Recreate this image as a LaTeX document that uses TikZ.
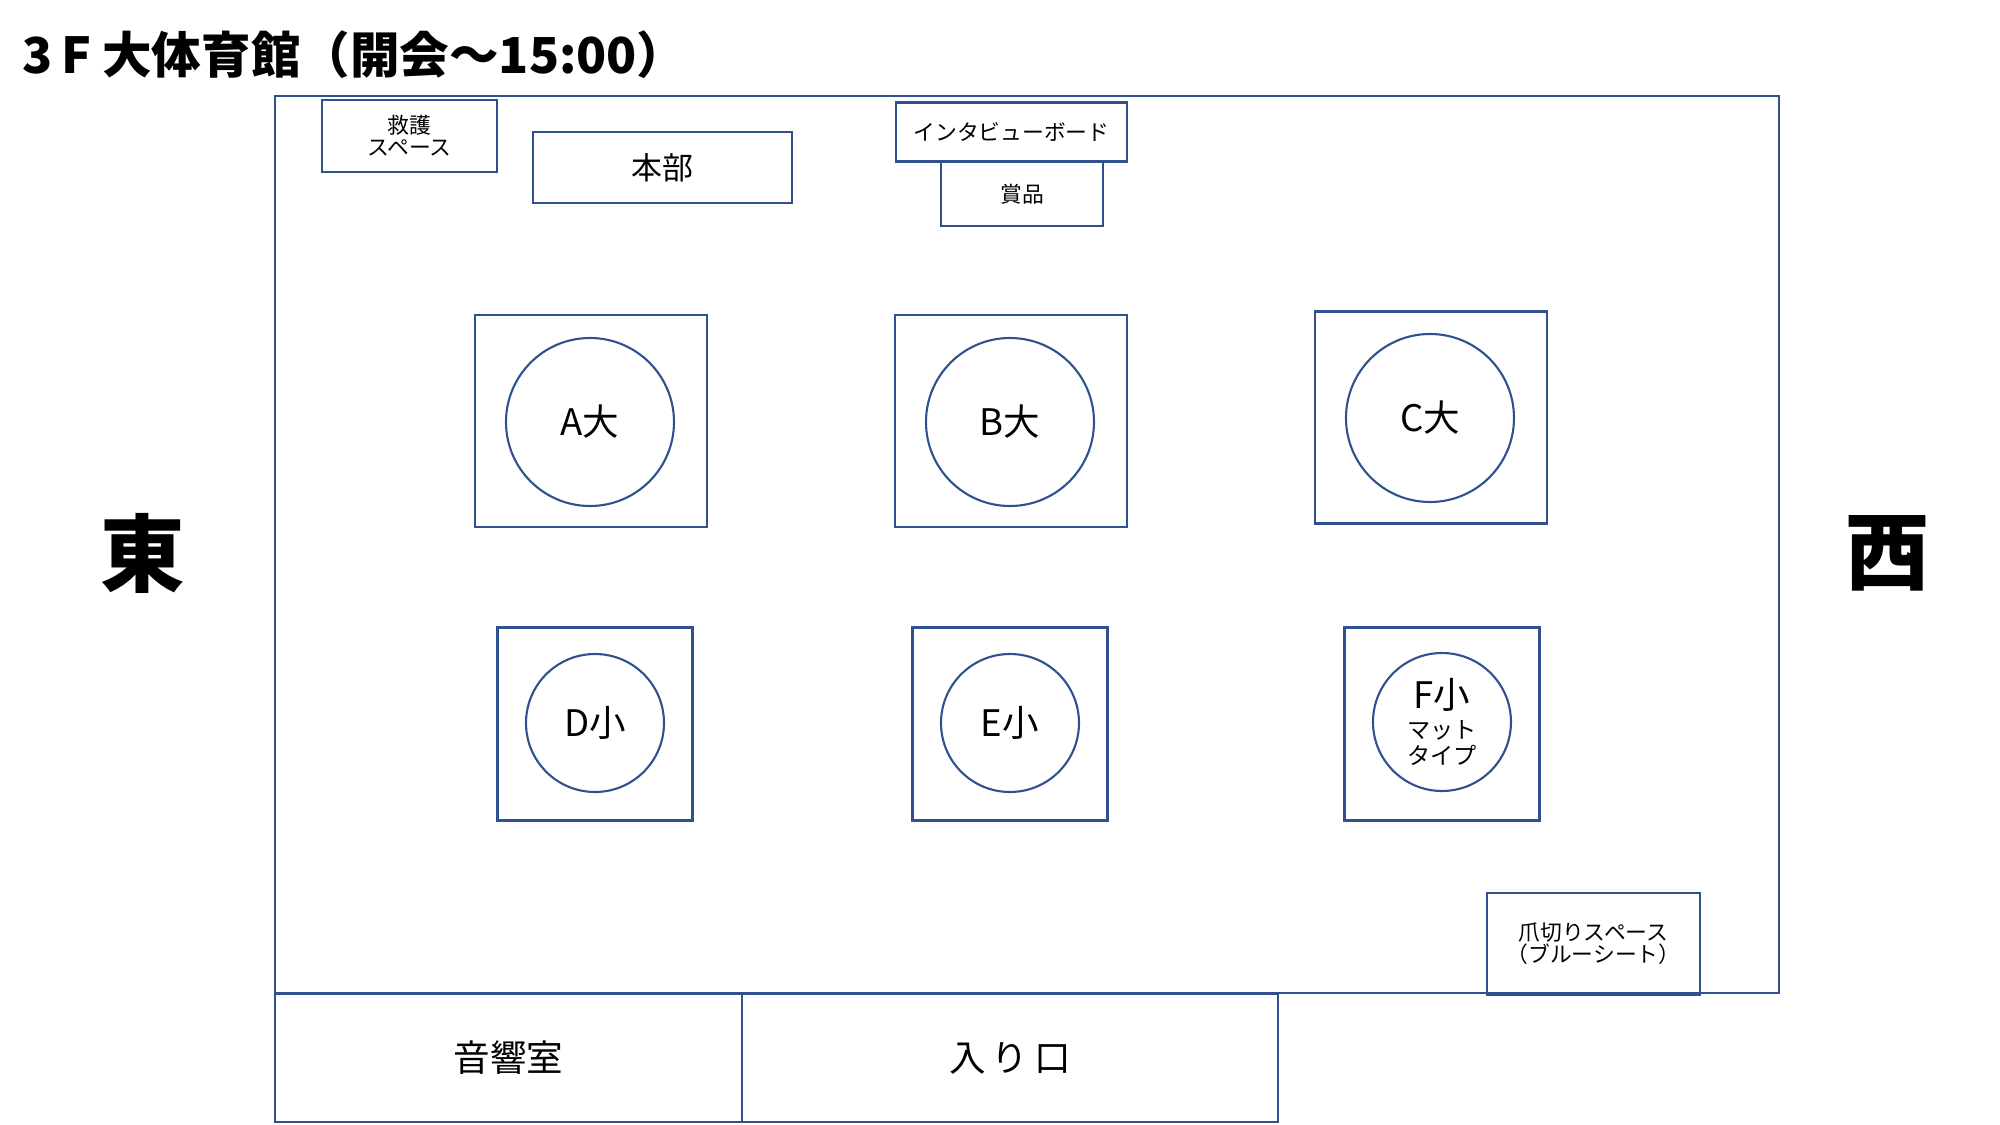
\documentclass[tikz,border=0pt]{standalone}
\usepackage{fontspec}
\setmainfont{Noto Sans CJK JP}
\definecolor{frame}{HTML}{2F528F}
\begin{document}
\begin{tikzpicture}[x=0.1mm,y=-0.1mm,
  box/.style={draw=frame, line width=0.6pt, inner sep=0pt, align=center, text=black},
  ring/.style={draw=frame, line width=0.6pt, circle, inner sep=0pt, align=center, text=black},
  small/.style={font=\fontsize{6.2}{7.2}\selectfont},
  mid/.style={font=\fontsize{8.8}{10}\selectfont},
  big/.style={font=\fontsize{10.4}{12}\selectfont},
  dir/.style={font=\fontsize{24}{28}\selectfont\bfseries}]
\useasboundingbox (0,0) rectangle (2000,1125);
% title
\node[anchor=west, inner sep=0pt, font=\fontsize{14.1}{16}\selectfont\bfseries] (title) at (22,55) {3\,F 大体育館（開会～15:00）};
% hall
\node[box, minimum width=150.4mm, minimum height=89.7mm] (hall) at (1027,544.5) {};
% bottom rooms
\node[box, big, minimum width=46.7mm, minimum height=12.8mm] (sound) at (508.5,1058) {音響室};
\node[box, big, minimum width=53.6mm, minimum height=12.8mm] (entry) at (1010,1058) {入\,り\,口};
% top items
\node[box, small, minimum width=17.5mm, minimum height=7.2mm] (aid) at (409.5,136) {救護\\[-1pt]スペース};
\node[box, mid, minimum width=25.9mm, minimum height=7.1mm] (hq) at (662.5,167.5) {本部};
\node[box, small, minimum width=23.1mm, minimum height=5.9mm] (board) at (1011.5,132) {インタビューボード};
\node[box, small, minimum width=16.2mm, minimum height=6.4mm] (prize) at (1022,194) {賞品};
% large courts
\node[box, minimum width=23.2mm, minimum height=21.2mm] (sqA) at (591,421) {};
\node[ring, big, minimum size=16.8mm] (A) at (590,422) {A大};
\node[box, minimum width=23.2mm, minimum height=21.2mm] (sqB) at (1011,421) {};
\node[ring, big, minimum size=16.8mm] (B) at (1010,422) {B大};
\node[box, minimum width=23.2mm, minimum height=21.2mm] (sqC) at (1431,417.5) {};
\node[ring, big, minimum size=16.8mm] (C) at (1430,418) {C大};
% small courts
\node[box, minimum width=19.5mm, minimum height=19.3mm] (sqD) at (595,724) {};
\node[ring, big, minimum size=13.8mm] (D) at (595,723) {D小};
\node[box, minimum width=19.5mm, minimum height=19.3mm] (sqE) at (1010,724) {};
\node[ring, big, minimum size=13.8mm] (E) at (1010,723) {E小};
\node[box, minimum width=19.5mm, minimum height=19.3mm] (sqF) at (1442,724) {};
\node[ring, minimum size=13.8mm, font=\fontsize{6.6}{7.4}\selectfont] (F) at (1442,722) {{\fontsize{10.4}{11}\selectfont F小}\\[0.9pt]マット\\タイプ};
% nail space
\node[box, small, minimum width=21.3mm, minimum height=10.2mm] (nail) at (1593.5,944) {爪切りスペース\\[-1pt]（ブルーシート）};
% directions
\node[dir, inner sep=0pt] (east) at (143,553) {東};
\node[dir, inner sep=0pt] (west) at (1888,553) {西};
\end{tikzpicture}
\end{document}
